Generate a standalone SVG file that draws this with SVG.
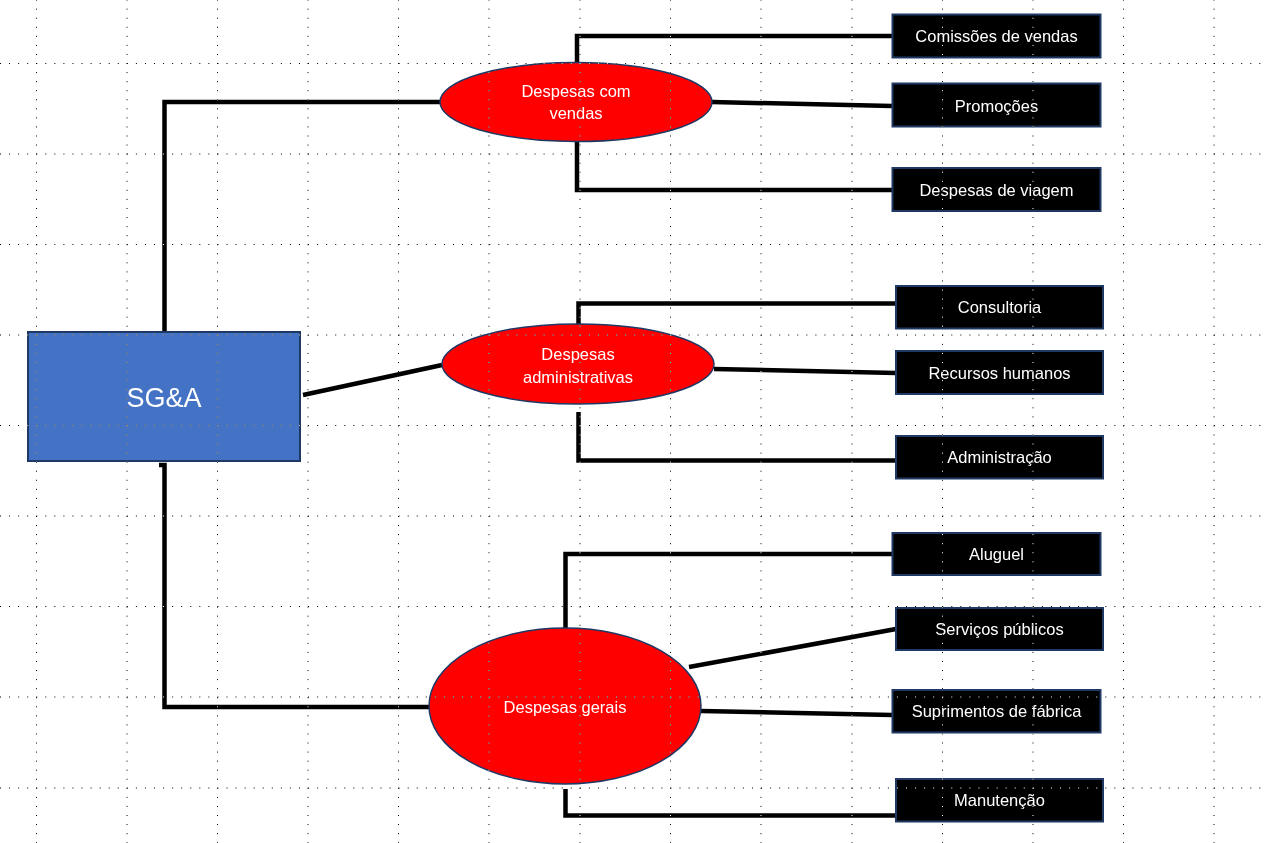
<svg xmlns="http://www.w3.org/2000/svg" width="1267" height="843" viewBox="0 0 1267 843">
<style>
.conn{fill:none;stroke:#000;stroke-width:4.5;stroke-linejoin:miter;stroke-linecap:butt}
.ell{fill:#FF0000;stroke:#1F3864;stroke-width:1.5}
.box{fill:#000;stroke:#1F3864;stroke-width:2}
.main{fill:#4472C4;stroke:#1F3864;stroke-width:2}
.t{font-family:"Liberation Sans",Arial,sans-serif;font-size:16.5px;fill:#fff;text-anchor:middle}
.big{font-size:27px}
.gh{stroke:#fff;stroke-width:1;stroke-dasharray:1 8.06;fill:none}
.grid{mix-blend-mode:difference}
</style>
<rect x="0" y="0" width="1267" height="843" fill="#fff"/>
<g id="connectors">
<path class="conn" d="M164.5 332 V102 H440"/>
<path class="conn" d="M303 395 L442 365"/>
<path class="conn" d="M159 465 H164.5 V707 H430"/>
<path class="conn" d="M577 63 V36 H892"/>
<path class="conn" d="M712 102 L892 106"/>
<path class="conn" d="M577 142 V190 H892"/>
<path class="conn" d="M578.5 325 V303.5 H896"/>
<path class="conn" d="M714 369 L896 373"/>
<path class="conn" d="M578.5 412 V460.5 H896"/>
<path class="conn" d="M565.5 629 V554 H892"/>
<path class="conn" d="M689 667 L896 629"/>
<path class="conn" d="M701 711 L892 715"/>
<path class="conn" d="M565.5 789 V815.5 H896"/>
</g>
<g id="sga">
<rect class="main" x="28" y="332" width="272" height="129"/>
<text class="t big" x="164" y="407">SG&amp;A</text>
</g>
<g id="vendas">
<ellipse class="ell" cx="576" cy="102" rx="136" ry="39.5"/>
<text class="t" x="576" y="97">Despesas com</text>
<text class="t" x="576" y="119">vendas</text>
</g>
<g id="administrativas">
<ellipse class="ell" cx="578" cy="364" rx="136" ry="40"/>
<text class="t" x="578" y="360">Despesas</text>
<text class="t" x="578" y="382.7">administrativas</text>
</g>
<g id="gerais">
<ellipse class="ell" cx="565" cy="706" rx="136" ry="78"/>
<text class="t" x="565" y="712.7">Despesas gerais</text>
</g>
<g id="comissoes"><rect class="box" x="892.5" y="14.5" width="208" height="43"/><text class="t" x="996.5" y="41.7">Comissões de vendas</text></g>
<g id="promocoes"><rect class="box" x="892.5" y="83.5" width="208" height="43"/><text class="t" x="996.5" y="111.7">Promoções</text></g>
<g id="viagem"><rect class="box" x="892.5" y="168" width="208" height="43"/><text class="t" x="996.5" y="196">Despesas de viagem</text></g>
<g id="consultoria"><rect class="box" x="896" y="286" width="207" height="42.5"/><text class="t" x="999.5" y="312.7">Consultoria</text></g>
<g id="rh"><rect class="box" x="896" y="351" width="207" height="43"/><text class="t" x="999.5" y="379">Recursos humanos</text></g>
<g id="administracao"><rect class="box" x="896" y="436" width="207" height="42.5"/><text class="t" x="999.5" y="462.7">Administração</text></g>
<g id="aluguel"><rect class="box" x="892.5" y="533" width="208" height="42"/><text class="t" x="996.5" y="560">Aluguel</text></g>
<g id="servicos"><rect class="box" x="896" y="608" width="207" height="42"/><text class="t" x="999.5" y="635">Serviços públicos</text></g>
<g id="suprimentos"><rect class="box" x="892.5" y="690" width="208" height="42.5"/><text class="t" x="996.5" y="716.7">Suprimentos de fábrica</text></g>
<g id="manutencao"><rect class="box" x="896" y="779" width="207" height="42.5"/><text class="t" x="999.5" y="806">Manutenção</text></g>
<g class="grid">
<path class="gh" d="M0 63.5 H1267 M0 154 H1267 M0 244.5 H1267 M0 335 H1267 M0 425.5 H1267 M0 516 H1267 M0 606.5 H1267 M0 697 H1267 M0 788 H1267"/>
<path class="gh" d="M36.5 -0.4 V843 M127 -0.4 V843 M217.5 -0.4 V843 M308 -0.4 V843 M398.5 -0.4 V843 M489 -0.4 V843 M580 -0.4 V843 M670.5 -0.4 V843 M761 -0.4 V843 M852 -0.4 V843 M942.5 -0.4 V843 M1033 -0.4 V843 M1123.5 -0.4 V843 M1214 -0.4 V843"/>
</g>
</svg>
